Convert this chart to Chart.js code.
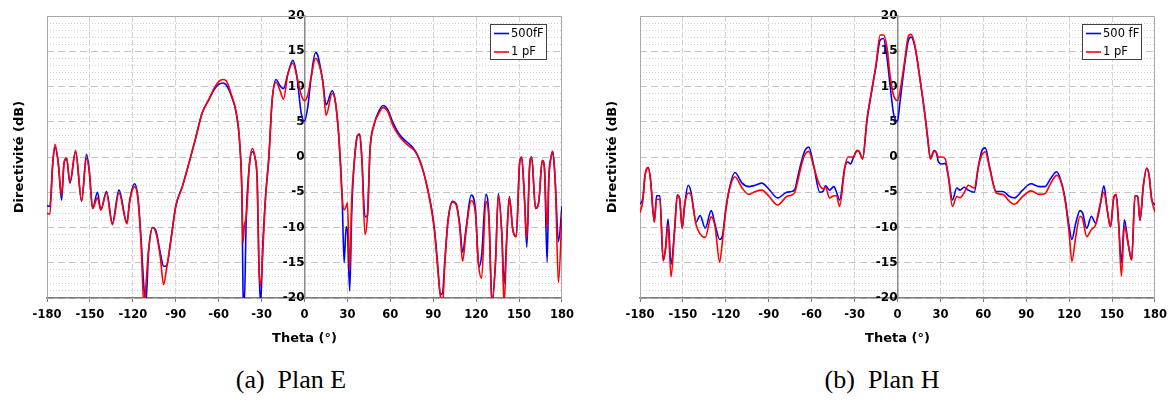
<!DOCTYPE html>
<html>
<head>
<meta charset="utf-8">
<script src="https://cdn.jsdelivr.net/npm/chart.js@4/dist/chart.umd.min.js"></script>
<style>
  body { margin: 0; background: #fff; width: 1173px; height: 403px; overflow: hidden; position: relative; }
  canvas { position: absolute; top: 0; }
  #cE { left: 0; }
  #cH { left: 593px; }
  .cap { position: absolute; top: 365px; line-height: 30px; font-family: "Liberation Serif", "Times New Roman", serif;
         font-size: 26px; color: #000; transform: translateX(-50%); white-space: pre; }
</style>
</head>
<body>
<canvas id="cE" width="580" height="350"></canvas>
<canvas id="cH" width="580" height="350"></canvas>
<div class="cap" style="left:291px">(a)  Plan E</div>
<div class="cap" style="left:882px">(b)  Plan H</div>
<script>
// Plan E : directivity (dB) versus theta (deg)
const thetaE = [-180,-178,-176,-174.4,-172.1,-169.8,-168.1,-166.3,-164,-160,-155.8,-152.4,-150.5,-148.1,-144.7,-142.4,-138.4,-134.3,-129.7,-124.1,-122.3,-118.8,-116.5,-114.2,-112.3,-111,-108.9,-106.1,-103.8,-100.8,-98.5,-96.4,-93.4,-90,-85.4,-80.8,-76.2,-71.6,-67,-63,-60,-57,-54.7,-51.2,-47.7,-45.3,-43.7,-43,-42.1,-40.7,-38.4,-36.5,-34.7,-33,-31.9,-30.7,-29.1,-27.2,-24.9,-22.6,-19.8,-17.4,-14.7,-11.6,-8.1,-5.3,-2.3,0,2.3,4.7,7.7,9.3,12.8,15.1,19.3,21.2,24,26.3,27.7,29.1,30,31.6,33,34.5,37,38.5,40,42.3,44,45.8,48.5,52,55,58,62,66,70,74,77,80,83,86,89,91,93,95,96.5,98,100.3,103.5,106,108.5,110.5,113,116.5,119.5,121.8,123.8,126.8,129,131,133.5,135.5,138,139.5,141.5,143.2,145.6,148,150.4,151.8,153.8,155.4,157.3,158.8,161.5,163.8,166.2,167.7,169.6,170.8,172.4,173.5,175.4,177.5,180];
const e500fF = [-6.9,-7.0,-1.0,1.4,-0.9,-6.1,-0.9,-0.2,-3.7,0.7,-6.3,0.4,-1.8,-7.3,-5.0,-7.5,-4.9,-9.4,-4.7,-9.3,-6.3,-3.8,-5.6,-11.7,-18.4,-21,-13.2,-10.0,-10.5,-13.6,-15.5,-15.4,-11.7,-7.0,-4.2,-0.9,2.6,6.2,8.1,9.6,10.3,10.5,10.2,8.7,6.2,1.9,-5.8,-18.8,-21,-8.4,-0.9,0.75,0.0,-3.7,-15,-21,-12.2,-5.6,0.0,8.1,11.0,10.2,9.7,11.8,13.7,11.4,6.2,5.1,7.1,11.4,14.8,14.4,10.7,7.4,9.4,8.3,2.9,-5.6,-15,-9.9,-10.5,-19,-8,-1.5,3.0,3.2,0.0,-8.5,-8.3,1.0,4.5,6.5,7.3,6.8,4.8,3.3,2.4,1.7,1.0,-0.2,-2.0,-4.5,-7.5,-10.5,-15,-19.5,-19.3,-15,-9,-6.3,-6.6,-9.5,-13.5,-10,-5.4,-7.5,-15.6,-14,-5.3,-8.5,-20.5,-15,-5.2,-11,-18,-11,-5.6,-10.3,-11.3,-0.8,0,-6,-12.8,-1.5,0,-7.3,-6.3,-0.5,-1.5,-14.9,-3,0,0.8,-4,-12,-7];
const e1pF = [-8.0,-8.1,-0.9,1.8,-0.9,-5.4,-0.8,-0.1,-3.6,0.9,-6.2,-0.2,-2.0,-7.3,-5.8,-7.5,-5.1,-9.6,-5.1,-9.5,-6.5,-4.2,-5.8,-12.5,-21,-18.5,-13.0,-10.0,-10.8,-14.2,-18.1,-15.8,-11.9,-7.0,-4.2,-0.9,2.6,6.2,8.1,9.8,10.7,11.0,10.8,8.9,6.3,2.1,-5.4,-12.2,-9.8,-8.4,-0.9,1.2,0.0,-3.7,-15,-18.3,-13.2,-5.6,0.0,8.1,10.6,9.6,8.2,11.8,13.3,11.4,8.8,8.0,8.8,11.4,14.0,13.6,10.7,5.9,9.0,8.3,2.9,-5.6,-7.5,-7.0,-6.5,-16,-6,-1.5,3.0,3.3,0.3,-11.0,-8.3,1.0,4.5,6.2,7.0,6.5,4.4,3.0,2.1,1.4,0.9,-0.2,-2.0,-4.5,-7.8,-10.8,-15.5,-19.8,-21,-15.5,-9.2,-6.4,-6.8,-10,-14.8,-10.5,-6.2,-8,-15.5,-17.2,-6.3,-9.2,-21,-15,-5.5,-11.5,-21,-11,-5.8,-10.3,-11.3,-0.8,0,-6,-11.5,-1.5,0,-7.3,-6.3,-0.5,-1.5,-10,-3,0,0.8,-4,-17.8,-8];

// Plan H : directivity (dB) versus theta (deg)
const thetaH = [-180,-178,-176.5,-174.2,-172.6,-170,-168.4,-166.1,-163.8,-162.2,-160.4,-158.3,-155.8,-153.9,-152.3,-150.5,-148.9,-146.3,-144.5,-140.8,-138,-134.4,-130.2,-127.5,-124.3,-122.4,-120.1,-117.8,-113.7,-108.6,-104,-99.4,-94.8,-90.2,-83.7,-77.5,-74.1,-71.8,-69.5,-66.7,-64.5,-62,-58.4,-54.4,-52.1,-50.3,-47.5,-44.5,-42.6,-40.5,-36.8,-34.7,-32.9,-31,-28.3,-26.7,-24.4,-21.3,-18.3,-15.1,-12.1,-9.8,-7.4,-5.1,-2.8,0,1.9,4.9,7.7,9.5,12.3,15.8,19.3,21.2,23,25.6,27.2,28.6,30.9,33.3,35.6,38.4,41.4,43.7,46.5,49.5,53.7,56.5,59,61.4,64.4,69,73.6,78.3,81.7,87.5,93.3,99.1,103,107.2,111.3,113.7,116.9,120,121.9,124.6,127.6,129.3,132.3,135.5,138.5,141.3,144.3,146.6,148.9,151.2,152.8,154.6,156.5,158.6,161.4,163.7,166,167.9,169.5,171.9,174.2,175.8,177.7,180];
const h500fF = [-6.7,-5.8,-2.6,-1.5,-3.3,-9.2,-5.5,-5.5,-14.7,-13.0,-8.8,-15.2,-10.3,-5.4,-5.9,-10.1,-7.0,-4.0,-4.8,-9.2,-8.3,-10.1,-7.6,-9.6,-11.7,-11.2,-7.5,-4.7,-2.2,-3.7,-4.2,-4.0,-3.7,-4.5,-5.8,-5.0,-4.9,-4.6,-2.6,-0.3,1.0,1.4,-1.4,-5.0,-4.9,-4.1,-4.7,-4.2,-5.0,-6.1,-1.4,-0.7,-1.0,-0.2,0.9,0.75,-0.2,5.2,9.0,12.8,16.6,16.8,14.2,10.0,6.2,5.1,8.1,13.0,16.6,17.0,15.5,10.9,5.7,2.4,-0.2,0.9,0.6,-0.7,-1.0,-0.9,-2.8,-6.1,-4.4,-4.7,-4.3,-4.7,-5.0,-1.4,0.9,1.3,-1.4,-4.9,-4.9,-5.6,-5.8,-4.7,-3.8,-4.2,-4.2,-3.0,-2.1,-3.0,-5.6,-9.9,-11.7,-9.4,-7.6,-7.9,-10.1,-8.4,-9.4,-7.3,-4.1,-7.5,-9.9,-5.8,-5.4,-9.5,-15.0,-8.9,-12.5,-14.6,-5.5,-5.6,-9.0,-4.0,-1.6,-2.5,-6.0,-6.8];
const h1pF = [-7.9,-6.2,-2.6,-1.5,-3.3,-9.2,-6.0,-6.0,-14.7,-13.2,-9.6,-17.0,-10.3,-5.4,-5.9,-10.1,-7.0,-5.1,-5.3,-9.6,-10.9,-11.4,-8.5,-9.9,-14.9,-12.0,-7.7,-4.9,-2.8,-4.4,-5.3,-4.9,-4.7,-5.5,-6.8,-5.6,-5.4,-5.0,-3.2,-0.8,0.4,0.8,-1.5,-4.0,-4.5,-4.3,-5.8,-5.5,-5.5,-7.0,-1.5,0.0,0.0,0.0,0.9,0.75,-0.3,5.4,9.2,13.0,17.3,17.3,15.6,11.4,8.8,8.0,9.5,13.5,17.2,17.4,15.7,11.0,5.9,2.6,-0.3,0.8,0.6,0.0,0.0,-0.2,-2.8,-7.0,-5.6,-5.8,-5.1,-4.0,-4.4,-1.4,0.3,0.75,-1.6,-5.1,-5.3,-6.3,-6.7,-5.6,-4.8,-5.3,-5.2,-3.7,-2.6,-3.2,-5.8,-10.8,-14.8,-11.3,-8.4,-8.7,-11.3,-10.3,-9.6,-7.0,-5.0,-7.5,-9.9,-5.6,-5.3,-9.5,-16.9,-9.8,-12.5,-14.6,-5.5,-5.6,-9.0,-4.0,-1.6,-2.5,-6.0,-7.8];

const thetaTicks = [-180, -150, -120, -90, -60, -30, 0, 30, 60, 90, 120, 150, 180];
const dbTicks = [-20, -15, -10, -5, 0, 5, 10, 15, 20];

const FONT = '"DejaVu Sans", Verdana, sans-serif';

// Solid frame on the top, left and right sides of the plot area
const framePlugin = {
  id: 'plotFrame',
  beforeDatasetsDraw(chart) {
    const a = chart.chartArea, ctx = chart.ctx;
    ctx.save();
    ctx.strokeStyle = '#a8a8a8';
    ctx.lineWidth = 1;
    ctx.beginPath();
    ctx.moveTo(Math.round(a.left) + 0.5, Math.round(a.bottom));
    ctx.lineTo(Math.round(a.left) + 0.5, Math.round(a.top) + 0.5);
    ctx.lineTo(Math.round(a.right) - 0.5, Math.round(a.top) + 0.5);
    ctx.lineTo(Math.round(a.right) - 0.5, Math.round(a.bottom));
    ctx.stroke();
    ctx.restore();
  }
};

// Boxed legend in the upper right corner of the plot area
const boxLegendPlugin = {
  id: 'boxLegend',
  afterDraw(chart, args, opts) {
    const a = chart.chartArea, ctx = chart.ctx;
    ctx.save();
    ctx.font = '11.5px ' + FONT;
    const sets = chart.data.datasets;
    const tw = Math.max(...sets.map(d => ctx.measureText(d.label).width));
    const w = Math.round(tw + 24), h = 36;
    const right = Math.round(a.right - opts.right);
    const left = right - w, top = Math.round(a.top + opts.top);
    ctx.fillStyle = '#fff';
    ctx.fillRect(left, top, w, h);
    ctx.strokeStyle = '#404040';
    ctx.lineWidth = 1;
    ctx.strokeRect(left + 0.5, top + 0.5, w - 1, h - 1);
    sets.forEach((d, i) => {
      const y = top + 9.5 + i * 18.5;
      ctx.strokeStyle = d.borderColor;
      ctx.lineWidth = 1.6;
      ctx.beginPath();
      ctx.moveTo(left + 4, y);
      ctx.lineTo(left + 19, y);
      ctx.stroke();
      ctx.fillStyle = '#000';
      ctx.textBaseline = 'middle';
      ctx.textAlign = 'left';
      ctx.fillText(d.label, left + 21, y + 0.5);
    });
    ctx.restore();
  }
};

function series(theta, vals) {
  return theta.map((t, i) => ({ x: t, y: vals[i] }));
}

function buildChart(id, theta, blue, red, blueName, redName, legendRight) {
  return new Chart(document.getElementById(id), {
    type: 'line',
    data: {
      datasets: [
        { label: blueName, data: series(theta, blue), borderColor: '#0000ff', borderWidth: 1.6, order: 2,
          pointRadius: 0, cubicInterpolationMode: 'monotone', yAxisID: 'y' },
        { label: redName, data: series(theta, red), borderColor: '#ff0000', borderWidth: 1.6, order: 1,
          pointRadius: 0, cubicInterpolationMode: 'monotone', yAxisID: 'y' }
      ]
    },
    options: {
      responsive: false,
      animation: false,
      events: [],
      layout: { padding: { top: 16, right: 17, bottom: 0, left: 0 } },
      plugins: {
        legend: { display: false },
        tooltip: { enabled: false },
        boxLegend: { right: legendRight, top: 8 }
      },
      scales: {
        x: {
          type: 'linear', position: 'bottom', min: -180, max: 180,
          afterBuildTicks: s => { s.ticks = thetaTicks.map(v => ({ value: v })); },
          afterFit: s => { s.height = 52; },
          ticks: { color: '#000', font: { family: FONT, size: 11.5, weight: 'bold' }, padding: 6,
                   maxRotation: 0, autoSkip: false, callback: v => String(v) },
          grid: { color: '#d4d4d4', lineWidth: 1, tickLength: 4, tickColor: '#7a7a7a', tickWidth: 1 },
          border: { display: true, color: '#7a7a7a', width: 1.5, dash: [6, 2] },
          title: { display: true, text: 'Theta (°)', color: '#000',
                   font: { family: FONT, size: 13, weight: 'bold' }, padding: { top: 0, bottom: 4 } }
        },
        yT: {
          type: 'linear', position: 'left',
          afterFit: s => { s.width = 47; },
          ticks: { display: false },
          grid: { display: false },
          border: { display: false },
          title: { display: true, text: 'Directivité (dB)', color: '#000',
                   font: { family: FONT, size: 13, weight: 'bold' }, padding: { top: 12, bottom: 0 } }
        },
        yMinor: {
          type: 'linear', position: { x: 0 }, min: -20, max: 20,
          ticks: { display: false, stepSize: 1 },
          grid: { drawTicks: false, lineWidth: 1,
                  color: c => (c.tick && Math.abs(c.tick.value % 5) < 1e-6) ? 'rgba(0,0,0,0)' : '#d2d2d2' },
          border: { display: false, dash: [1, 2] }
        },
        y: {
          type: 'linear', position: { x: 0 }, min: -20, max: 20,
          afterBuildTicks: s => { s.ticks = dbTicks.map(v => ({ value: v })); },
          ticks: { color: '#000', font: { family: FONT, size: 12, weight: 'bold' }, padding: 7,
                   autoSkip: false, callback: v => String(v) },
          grid: { color: '#c4c4c4', lineWidth: 1, tickLength: 4, tickColor: '#8a8a8a', tickWidth: 1 },
          border: { display: true, color: '#8a8a8a', width: 1.5, dash: [7, 4] }
        }
      }
    },
    plugins: [framePlugin, boxLegendPlugin]
  });
}

buildChart('cE', thetaE, e500fF, e1pF, '500fF', '1 pF', 15);
buildChart('cH', thetaH, h500fF, h1pF, '500 fF', '1 pF', 13);
</script>
</body>
</html>
